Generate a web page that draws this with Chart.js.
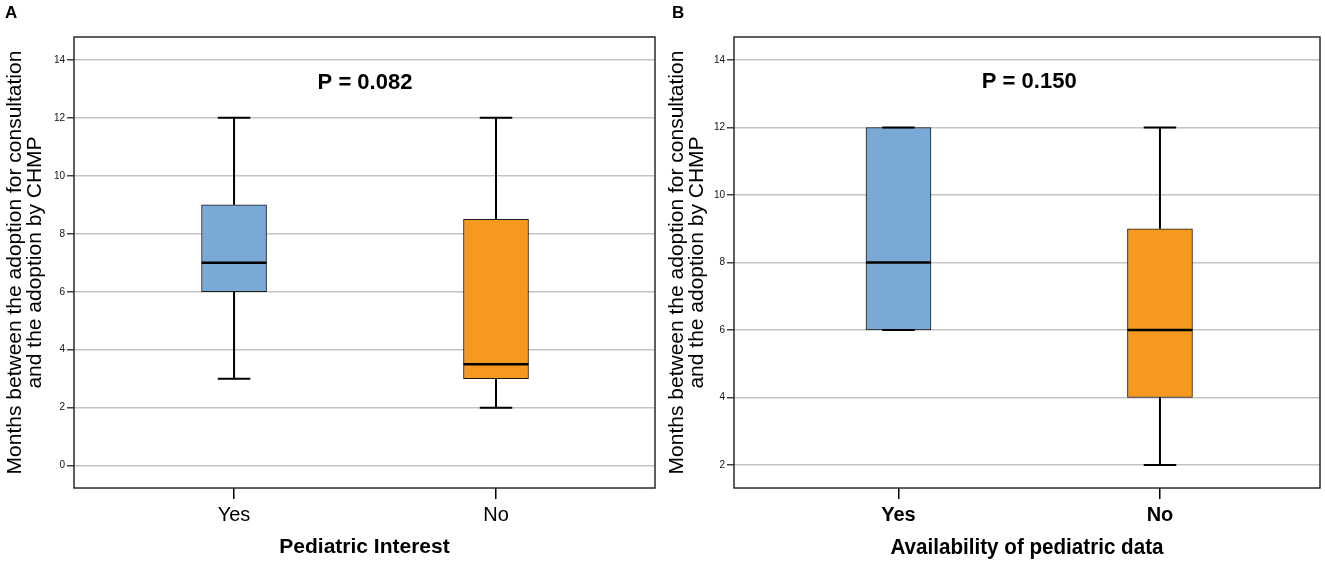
<!DOCTYPE html>
<html><head><meta charset="utf-8">
<script src="https://cdn.jsdelivr.net/npm/chart.js@4.4.1/dist/chart.umd.min.js"></script>
<style>
body{margin:0;background:#fff;width:1325px;height:563px;overflow:hidden;position:relative}
.p{position:absolute;top:0;height:563px}
</style></head><body>
<div class="p" style="left:0;width:662px"><canvas id="a"></canvas></div>
<div class="p" style="left:662px;width:663px"><canvas id="b"></canvas></div>
<script>
const categories = ['Yes', 'No'];
const yTicksA = [0, 2, 4, 6, 8, 10, 12, 14];
const yTicksB = [2, 4, 6, 8, 10, 12, 14];
// Panel A – Pediatric Interest
const minA = [3, 2];
const q1A  = [6, 3];
const medA = [7, 3.5];
const q3A  = [9, 8.5];
const maxA = [12, 12];
// Panel B – Availability of pediatric data
const minB = [6, 2];
const q1B  = [6, 4];
const medB = [8, 6];
const q3B  = [12, 9];
const maxB = [12, 12];
const boxColors = ['#7BA9D6', '#F7991F'];

const SANS = '"Liberation Sans", Arial, sans-serif';

const boxExtras = {
  id: 'boxExtras',
  afterDatasetsDraw(chart, args, o) {
    const ctx = chart.ctx, xs = chart.scales.x, ys = chart.scales.y;
    const meta = chart.getDatasetMeta(0);
    ctx.save();
    ctx.strokeStyle = '#000';
    ctx.lineCap = 'butt';
    o.med.forEach((m, i) => {
      const x = xs.getPixelForValue(i + 1);
      const w = meta.data[i].width;
      const cap = w / 4;
      const yMin = ys.getPixelForValue(o.min[i]), yQ1 = ys.getPixelForValue(o.q1[i]);
      const yQ3 = ys.getPixelForValue(o.q3[i]), yMax = ys.getPixelForValue(o.max[i]);
      ctx.lineWidth = 2;
      ctx.beginPath();
      ctx.moveTo(x, yQ3); ctx.lineTo(x, yMax);
      ctx.moveTo(x - cap, yMax); ctx.lineTo(x + cap, yMax);
      ctx.moveTo(x, yQ1); ctx.lineTo(x, yMin);
      ctx.moveTo(x - cap, yMin); ctx.lineTo(x + cap, yMin);
      ctx.stroke();
      ctx.lineWidth = 2.5;
      const yM = ys.getPixelForValue(m);
      ctx.beginPath();
      ctx.moveTo(x - w / 2, yM); ctx.lineTo(x + w / 2, yM);
      ctx.stroke();
    });
    ctx.restore();
  },
  afterDraw(chart, args, o) {
    const ctx = chart.ctx, a = chart.chartArea, xs = chart.scales.x, ys = chart.scales.y;
    ctx.save();
    ctx.strokeStyle = '#2a2a2a';
    ctx.lineWidth = 1.5;
    ctx.strokeRect(a.left, a.top, a.right - a.left, a.bottom - a.top);
    ctx.fillStyle = '#000';
    ctx.textAlign = 'center';
    ctx.textBaseline = 'middle';
    ctx.font = 'bold 22px ' + SANS;
    ctx.fillText(o.pText, xs.getPixelForValue(o.pX), ys.getPixelForValue(o.pY));
    if (o.narrowTitle) {
      ctx.font = 'bold 22px ' + SANS;
      ctx.fillText(o.narrowTitle, (a.left + a.right) / 2, 548, o.narrowWidth);
    }
    ctx.textAlign = 'left';
    ctx.textBaseline = 'top';
    ctx.font = 'bold 17px ' + SANS;
    ctx.fillText(o.letter, o.letterX, 5);
    ctx.restore();
  }
};

function makeChart(id, cfg) {
  const ds = {
    data: categories.map((c, i) => ({ x: i + 1, y: [cfg.q1[i], cfg.q3[i]] })),
    backgroundColor: boxColors,
    borderColor: '#1a1a1a',
    borderWidth: 1,
    borderSkipped: false,
    barThickness: 65
  };
  return new Chart(document.getElementById(id), {
    type: 'bar',
    data: { datasets: [ds] },
    plugins: [boxExtras],
    options: {
      responsive: true,
      maintainAspectRatio: false,
      devicePixelRatio: 1,
      animation: false,
      layout: { padding: { left: 0, right: cfg.padRight, top: 37, bottom: 0 } },
      plugins: {
        legend: { display: false },
        tooltip: { enabled: false },
        boxExtras: {
          min: cfg.min, q1: cfg.q1, med: cfg.med, q3: cfg.q3, max: cfg.max,
          pText: cfg.pText, pX: 1.5, pY: cfg.pY, letter: cfg.letter, letterX: cfg.letterX,
          narrowTitle: cfg.narrowTitle, narrowWidth: 273
        }
      },
      scales: {
        x: {
          type: 'linear',
          offset: false,
          min: cfg.xMin, max: cfg.xMax,
          afterBuildTicks: s => { s.ticks = categories.map((c, i) => ({ value: i + 1 })); },
          afterFit: s => { s.height = 75; },
          grid: { offset: false, drawOnChartArea: false, drawTicks: true, tickLength: 11, tickColor: '#000', lineWidth: 1.5 },
          border: { display: false },
          ticks: {
            padding: 4,
            color: '#000',
            font: cfg.catFont,
            maxRotation: 0,
            autoSkip: false,
            callback: v => categories[v - 1] || ''
          },
          title: {
            display: !!cfg.xTitle,
            text: cfg.xTitle || '',
            color: '#000',
            font: { family: SANS, size: 21, weight: 'bold' },
            padding: { top: 0, bottom: 3 }
          }
        },
        y: {
          min: cfg.yMin, max: cfg.yMax,
          afterBuildTicks: s => { s.ticks = cfg.yTicks.map(v => ({ value: v })); },
          afterFit: s => { s.width = cfg.yWidth; },
          grid: { color: '#c4c4c4', lineWidth: 1.5, tickLength: 7, tickColor: '#444' },
          border: { display: false },
          ticks: { padding: 2, color: '#111', font: { family: SANS, size: 10 } },
          title: {
            display: true,
            text: ['Months between the adoption for consultation', 'and the adoption by CHMP'],
            color: '#000',
            font: { family: SANS, size: 21, lineHeight: 0.95 },
            padding: { top: 5, bottom: 0 }
          }
        }
      }
    }
  });
}

makeChart('a', {
  min: minA, q1: q1A, med: medA, q3: q3A, max: maxA,
  yTicks: yTicksA, yMin: -0.77, yMax: 14.79,
  xMin: 0.389, xMax: 2.607, padRight: 7, yWidth: 74,
  pText: 'P = 0.082', pY: 13.2, letter: 'A', letterX: 5,
  xTitle: 'Pediatric Interest',
  catFont: { family: SANS, size: 20 }
});
makeChart('b', {
  min: minB, q1: q1B, med: medB, q3: q3B, max: maxB,
  yTicks: yTicksB, yMin: 1.32, yMax: 14.68,
  xMin: 0.371, xMax: 2.612, padRight: 5, yWidth: 72,
  pText: 'P = 0.150', pY: 13.35, letter: 'B', letterX: 10,
  narrowTitle: 'Availability of pediatric data',
  catFont: { family: SANS, size: 20, weight: 'bold' }
});
</script>
</body></html>
